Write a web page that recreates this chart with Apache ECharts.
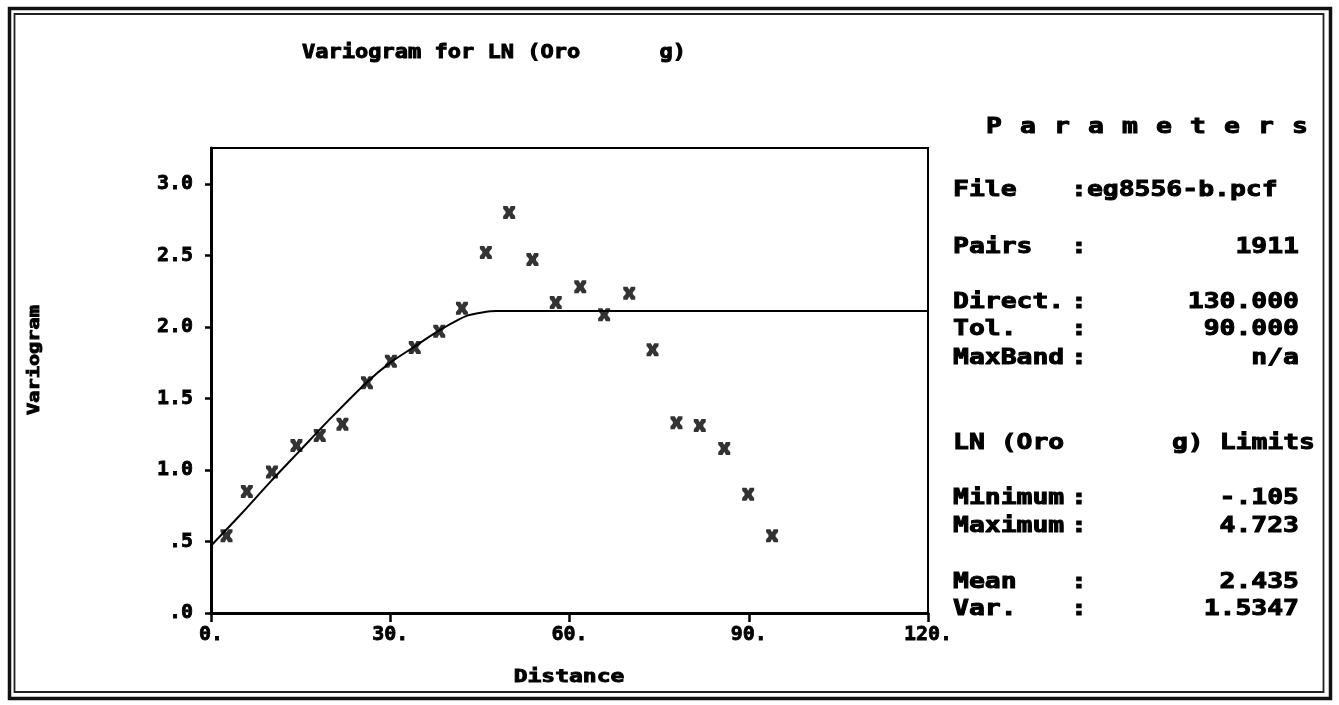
<!DOCTYPE html>
<html>
<head>
<meta charset="utf-8">
<title>Variogram for LN (Oro g)</title>
<script src="https://cdn.jsdelivr.net/npm/echarts@6.0.0/dist/echarts.min.js"></script>
<style>
  html, body { margin: 0; padding: 0; background: #fff; }
  #chart { width: 1339px; height: 705px; }
</style>
</head>
<body>
<div id="chart"></div>
<script>
// Experimental variogram: lag distance and semivariance
const lagDistance = [2.6, 6.0, 10.2, 14.3, 18.2, 22.0, 26.1, 30.1, 34.1, 38.2, 42.0, 46.0,
                     49.9, 53.8, 57.7, 61.8, 65.8, 70.0, 73.9, 77.9, 81.8, 85.9, 89.9, 93.9];
const semivariance = [0.54, 0.85, 0.985, 1.17, 1.24, 1.32, 1.61, 1.76, 1.855, 1.97, 2.13, 2.52,
                      2.80, 2.47, 2.17, 2.28, 2.085, 2.235, 1.84, 1.33, 1.31, 1.15, 0.83, 0.54];

// Fitted model curve (nugget + sill)
const modelDistance = [0, 5, 10, 15, 20, 26, 30, 34, 38, 43, 47.8, 120];
const modelValue    = [0.47, 0.69, 0.92, 1.14, 1.36, 1.61, 1.75, 1.86, 1.97, 2.08, 2.11, 2.11];

// Axis ticks
const xTicks = [0, 30, 60, 90, 120];
const yTicks = [0, 0.5, 1.0, 1.5, 2.0, 2.5, 3.0];

// Parameter panel text
const paramLabels = ['File', 'Pairs', 'Direct.', 'Tol.', 'MaxBand'];
const paramValues = [':eg8556-b.pcf', '1911', '130.000', '90.000', 'n/a'];
const limitLabels = ['Minimum', 'Maximum', 'Mean', 'Var.'];
const limitValues = ['-.105', '4.723', '2.435', '1.5347'];
const panelTitle = 'Parameters';
const limitsTitleLeft = 'LN (Oro';
const limitsTitleRight = 'g) Limits';
const chartTitle = 'Variogram for LN (Oro      g)';
const xName = 'Distance';
const yName = 'Variogram';

const MONO = '"DejaVu Sans Mono", "Liberation Mono", monospace';
const fontPanel = 'bold 22px ' + MONO;

function txt(text, x, y, opts) {
  opts = opts || {};
  return {
    type: 'text', x: x, y: y,
    scaleX: opts.scaleX || 1, rotation: opts.rotation || 0,
    style: {
      text: text, fill: '#000', font: opts.font || fontPanel,
      stroke: '#000', lineWidth: opts.weight == null ? 1 : opts.weight,
      align: opts.align || 'left', verticalAlign: 'middle'
    }
  };
}

const graphics = [];
// double frame
graphics.push({ type: 'rect', shape: { x: 9.5, y: 8.5, width: 1321, height: 690 },
  style: { fill: 'none', stroke: '#111', lineWidth: 3.5 } });
graphics.push({ type: 'rect', shape: { x: 14.5, y: 14, width: 1309, height: 678 },
  style: { fill: 'none', stroke: '#222', lineWidth: 1.8 } });

// title and axis names
graphics.push(txt(chartTitle, 302, 53, { font: 'bold 20px ' + MONO, scaleX: 1.1 }));
graphics.push(txt(xName, 569, 678, { font: 'bold 17px ' + MONO, scaleX: 1.35, align: 'center', weight: 0.9 }));
graphics.push(txt(yName, 35, 360, { font: 'bold 16px ' + MONO, scaleX: 1.27, align: 'center', rotation: Math.PI / 2, weight: 0.9 }));

// spaced panel heading
for (let i = 0; i < panelTitle.length; i++) {
  graphics.push(txt(panelTitle[i], 986 + i * 34, 127, { scaleX: 1.2 }));
}

// parameter rows
const paramY = [190, 247, 302, 329, 358];
paramLabels.forEach(function (lab, i) {
  graphics.push(txt(lab, 953, paramY[i], { scaleX: 1.2 }));
  if (i === 0) {
    graphics.push(txt(paramValues[i], 1071, paramY[i], { scaleX: 1.2 }));
  } else {
    graphics.push(txt(':', 1071, paramY[i], { scaleX: 1.2 }));
    graphics.push(txt(paramValues[i], 1299, paramY[i], { scaleX: 1.2, align: 'right' }));
  }
});

graphics.push(txt(limitsTitleLeft, 953, 443, { scaleX: 1.2 }));
graphics.push(txt(limitsTitleRight, 1315, 443, { scaleX: 1.2, align: 'right' }));

const limitY = [498, 526, 582, 609];
limitLabels.forEach(function (lab, i) {
  graphics.push(txt(lab, 953, limitY[i], { scaleX: 1.2 }));
  graphics.push(txt(':', 1071, limitY[i], { scaleX: 1.2 }));
  graphics.push(txt(limitValues[i], 1299, limitY[i], { scaleX: 1.2, align: 'right' }));
});

// heavy asterisk-like marker
const starSymbol = 'path://M0,0H3.6L5,2.4L6.4,0H10V2.2L7.4,5L10,7.8V10H6.4L5,7.6L3.6,10H0V7.8L2.6,5L0,2.2Z' +
                   'M2,4H8V6H2Z';

const axisFont = { fontFamily: MONO, fontWeight: 'bold', fontSize: 20, color: '#000',
                   textBorderColor: '#000', textBorderWidth: 0.8 };

const chart = echarts.init(document.getElementById('chart'), null, { renderer: 'canvas' });
chart.setOption({
  backgroundColor: '#fff',
  animation: false,
  grid: { left: 211, right: 411, top: 148, bottom: 92, show: true, borderColor: '#000', borderWidth: 2 },
  xAxis: {
    type: 'value', min: 0, max: 120, interval: 30,
    axisLine: { show: true, lineStyle: { color: '#000', width: 3 } },
    axisTick: { show: true, inside: false, length: 9, customValues: xTicks, lineStyle: { color: '#000', width: 2.5 } },
    axisLabel: Object.assign({
      customValues: xTicks, margin: 12,
      formatter: function (v) { return v + '.'; }
    }, axisFont),
    splitLine: { show: false }
  },
  yAxis: {
    type: 'value', min: 0, max: 3.25, interval: 0.5,
    axisLine: { show: true, lineStyle: { color: '#000', width: 3 } },
    axisTick: { show: true, inside: false, length: 6, customValues: yTicks, lineStyle: { color: '#000', width: 2.5 } },
    axisLabel: Object.assign({
      customValues: yTicks, margin: 18,
      formatter: function (v) {
        const s = v.toFixed(1);
        return v < 1 ? s.replace(/^0/, '') : s;
      }
    }, axisFont),
    splitLine: { show: false }
  },
  series: [
    {
      type: 'line',
      data: modelDistance.map(function (d, i) { return [d, modelValue[i]]; }),
      showSymbol: false,
      smooth: 0.25,
      lineStyle: { color: '#000', width: 2 },
      z: 2
    },
    {
      type: 'scatter',
      data: lagDistance.map(function (d, i) { return [d, semivariance[i]]; }),
      symbol: starSymbol,
      symbolSize: [12, 13],
      itemStyle: { color: '#000' },
      z: 3
    }
  ],
  graphic: graphics
});
</script>
</body>
</html>
